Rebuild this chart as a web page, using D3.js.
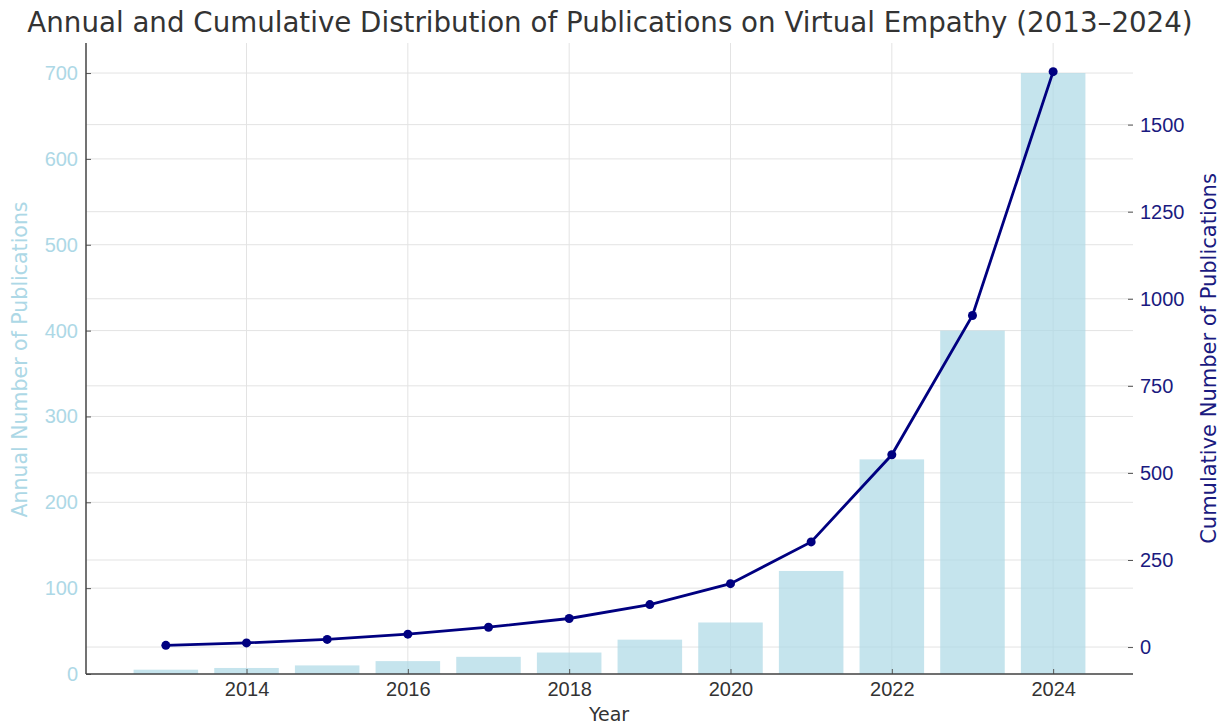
<!DOCTYPE html>
<html>
<head>
<meta charset="utf-8">
<script src="https://cdn.jsdelivr.net/npm/d3@7"></script>
<style>
  html, body { margin: 0; padding: 0; background: #fff; }
  svg { display: block; font-family: "DejaVu Sans", sans-serif; }
</style>
</head>
<body>
<svg id="chart" width="1224" height="726"></svg>
<script>
const years = [2013, 2014, 2015, 2016, 2017, 2018, 2019, 2020, 2021, 2022, 2023, 2024];
const annual = [5, 7, 10, 15, 20, 25, 40, 60, 120, 250, 400, 700];
const cumulative = [5, 12, 22, 37, 57, 82, 122, 182, 302, 552, 952, 1652];
const xTicks = [2014, 2016, 2018, 2020, 2022, 2024];
const leftTicks = [0, 100, 200, 300, 400, 500, 600, 700];
const rightTicks = [0, 250, 500, 750, 1000, 1250, 1500];

const title = "Annual and Cumulative Distribution of Publications on Virtual Empathy (2013–2024)";
const xLabel = "Year";
const leftLabel = "Annual Number of Publications";
const rightLabel = "Cumulative Number of Publications";

const svg = d3.select("#chart");
const L = 86, R = 1133, T = 43, B = 674;

// x scale (linear in years, with matplotlib-like margins around bars)
const barW = 0.8;
const xMin = d3.min(years) - barW / 2, xMax = d3.max(years) + barW / 2;
const xPad = (xMax - xMin) * 0.05;
const x = d3.scaleLinear().domain([xMin - xPad, xMax + xPad]).range([L, R]);

const yL = d3.scaleLinear().domain([0, d3.max(annual) * 1.05]).range([B, T]);
const cMin = d3.min(cumulative), cMax = d3.max(cumulative);
const cPad = (cMax - cMin) * 0.05;
const yR = d3.scaleLinear().domain([cMin - cPad, cMax + cPad]).range([B, T]);

const gridColor = "#e3e3e3";

// grids
svg.append("g").selectAll("line").data(leftTicks).join("line")
  .attr("x1", L).attr("x2", R)
  .attr("y1", d => yL(d)).attr("y2", d => yL(d))
  .attr("stroke", gridColor).attr("stroke-width", 1);
svg.append("g").selectAll("line").data(rightTicks).join("line")
  .attr("x1", L).attr("x2", R)
  .attr("y1", d => yR(d)).attr("y2", d => yR(d))
  .attr("stroke", gridColor).attr("stroke-width", 1);
svg.append("g").selectAll("line").data(xTicks).join("line")
  .attr("x1", d => x(d)).attr("x2", d => x(d))
  .attr("y1", T).attr("y2", B)
  .attr("stroke", gridColor).attr("stroke-width", 1);

// bars
svg.append("g").selectAll("rect").data(years).join("rect")
  .attr("x", (d) => x(d - barW / 2))
  .attr("width", (d) => x(d + barW / 2) - x(d - barW / 2))
  .attr("y", (d, i) => yL(annual[i]))
  .attr("height", (d, i) => yL(0) - yL(annual[i]))
  .attr("fill", "#add8e6").attr("fill-opacity", 0.7);

// line
const line = d3.line().x((d, i) => x(years[i])).y(d => yR(d));
svg.append("path").datum(cumulative)
  .attr("d", line).attr("fill", "none")
  .attr("stroke", "#000080").attr("stroke-width", 2.8);
svg.append("g").selectAll("circle").data(cumulative).join("circle")
  .attr("cx", (d, i) => x(years[i])).attr("cy", d => yR(d)).attr("r", 4.5)
  .attr("fill", "#000080");

// axes
const tickLen = 5;
const tickFont = "20px";
const axisL = svg.append("g").attr("transform", `translate(${L},0)`)
  .call(d3.axisLeft(yL).tickValues(leftTicks).tickSize(-tickLen).tickPadding(8).tickFormat(d3.format("d")));
axisL.select(".domain").remove();
axisL.selectAll(".tick line").attr("stroke", "#555");
axisL.selectAll(".tick text").attr("fill", "#add8e6").style("font-size", tickFont);

const axisR = svg.append("g").attr("transform", `translate(${R},0)`)
  .call(d3.axisRight(yR).tickValues(rightTicks).tickSize(-tickLen).tickPadding(7).tickFormat(d3.format("d")));
axisR.select(".domain").remove();
axisR.selectAll(".tick line").attr("stroke", "#555");
axisR.selectAll(".tick text").attr("fill", "#1a1a80").style("font-size", tickFont);

const axisB = svg.append("g").attr("transform", `translate(0,${B})`)
  .call(d3.axisBottom(x).tickValues(xTicks).tickSize(-tickLen).tickPadding(8).tickFormat(d3.format("d")));
axisB.select(".domain").remove();
axisB.selectAll(".tick line").attr("stroke", "#555");
axisB.selectAll(".tick text").attr("fill", "#333").style("font-size", tickFont);

// spines
svg.append("line").attr("x1", L).attr("x2", L).attr("y1", T).attr("y2", B)
  .attr("stroke", "#444").attr("stroke-width", 1.5);
svg.append("line").attr("x1", L).attr("x2", R).attr("y1", B).attr("y2", B)
  .attr("stroke", "#444").attr("stroke-width", 1.5);

// labels
svg.append("text").attr("x", 610).attr("y", 32)
  .attr("text-anchor", "middle").attr("fill", "#333").style("font-size", "27.7px")
  .text(title);
svg.append("text").attr("x", 609).attr("y", 721)
  .attr("text-anchor", "middle").attr("fill", "#333").style("font-size", "19px")
  .text(xLabel);
svg.append("text").attr("transform", `translate(27,${(T + B) / 2 + 1}) rotate(-90)`)
  .attr("text-anchor", "middle").attr("fill", "#add8e6").style("font-size", "20.5px")
  .text(leftLabel);
svg.append("text").attr("transform", `translate(1216,${(T + B) / 2}) rotate(-90)`)
  .attr("text-anchor", "middle").attr("fill", "#1a1a80").style("font-size", "21px")
  .text(rightLabel);
</script>
</body>
</html>
